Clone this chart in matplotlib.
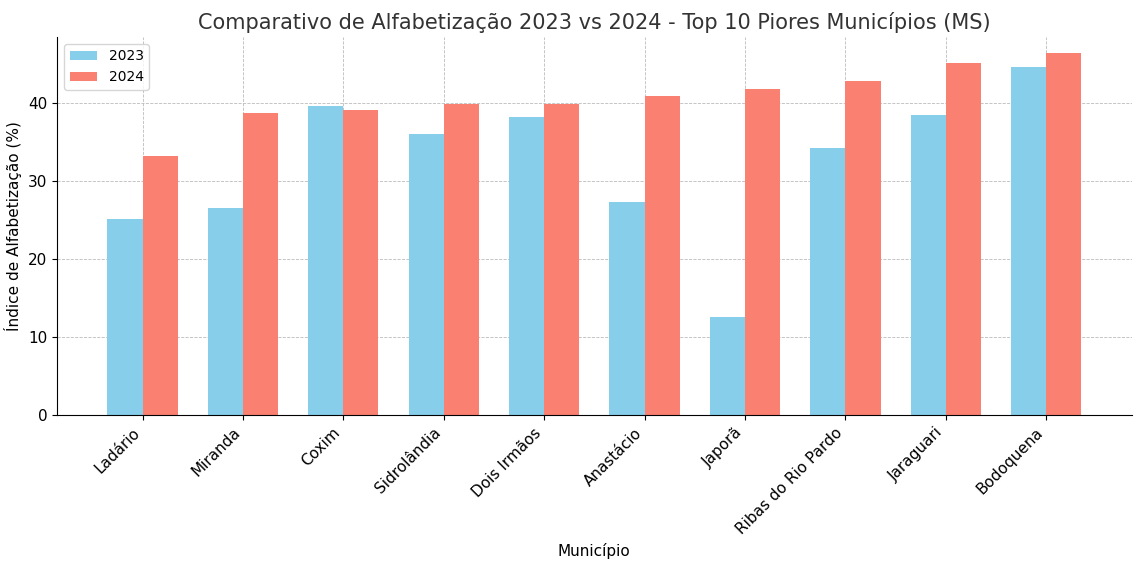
import matplotlib.pyplot as plt
import numpy as np

municipios = ["Ladário", "Miranda", "Coxim", "Sidrolândia", "Dois Irmãos", "Anastácio",
              "Japorã", "Ribas do Rio Pardo", "Jaraguari", "Bodoquena"]
v2023 = [25.2, 26.6, 39.7, 36.1, 38.2, 27.4, 12.6, 34.3, 38.5, 44.6]
v2024 = [33.3, 38.7, 39.2, 39.9, 39.9, 40.9, 41.8, 42.8, 45.2, 46.5]

fig, ax = plt.subplots(figsize=(11.43, 5.69), dpi=100)
x = np.arange(len(municipios))
w = 0.35
ax.bar(x - w/2, v2023, w, color="skyblue", label="2023", zorder=2)
ax.bar(x + w/2, v2024, w, color="salmon", label="2024", zorder=2)
ax.set_xticks(x)
ax.set_xticklabels(municipios, rotation=45, ha="right", fontsize=11)
ax.tick_params(axis="y", labelsize=11)
ax.set_yticks([0, 10, 20, 30, 40])
ax.set_xlim(-0.85, 9.85)
ax.set_ylim(0, 48.5)
ax.set_xlabel("Município", fontsize=11)
ax.set_ylabel("Índice de Alfabetização (%)", fontsize=11)
ax.set_title("Comparativo de Alfabetização 2023 vs 2024 - Top 10 Piores Municípios (MS)", fontsize=15, color="#333333")
ax.grid(True, linestyle="--", linewidth=0.6, color="#bbbbbb", zorder=0)
ax.spines["top"].set_visible(False)
ax.spines["right"].set_visible(False)
ax.legend(loc="upper left")
fig.subplots_adjust(left=0.05, right=0.99, top=0.935, bottom=0.27)
fig.savefig("out.png")
